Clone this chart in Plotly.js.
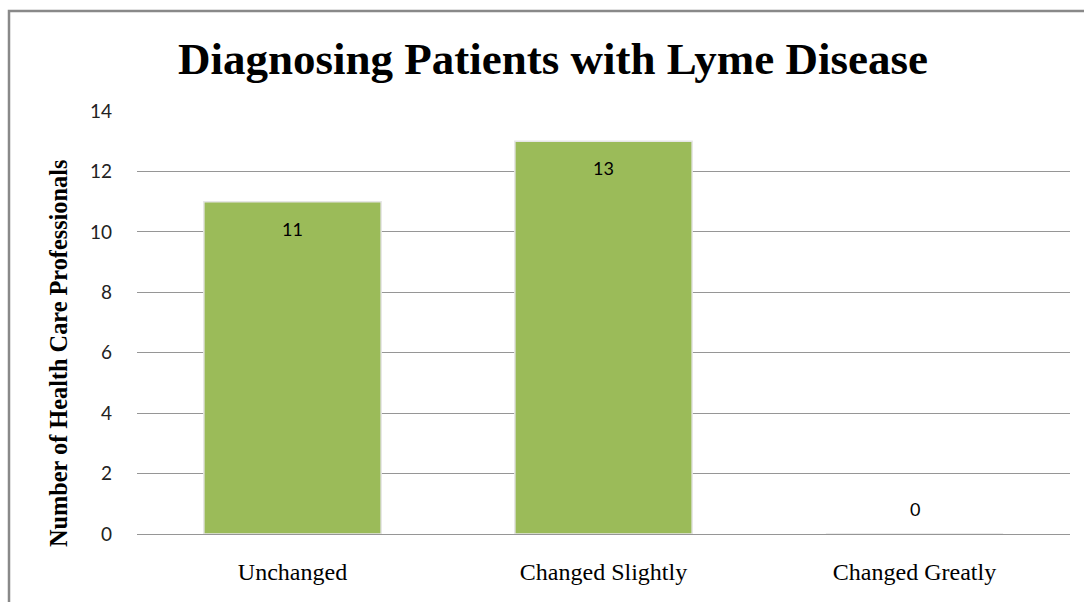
<!DOCTYPE html>
<html>
<head>
<meta charset="utf-8">
<script src="https://cdn.plot.ly/plotly-3.0.1.min.js"></script>
<style>html,body{margin:0;padding:0;background:#fff;}#chart{width:1084px;height:602px;}</style>
</head>
<body>
<div id="chart"></div>
<script>
const categories = ["Unchanged", "Changed Slightly", "Changed Greatly"];
const values = [11, 13, 0];
const yTicks = [0, 2, 4, 6, 8, 10, 12, 14];

const L = 137, R = 14, T = 111, B = 68, W = 1084, H = 602;
const pw = W - L - R, ph = H - T - B;
const SERIF = 'Liberation Serif, Times New Roman, serif';
const SANS = 'Lato, Open Sans, sans-serif';

const labelAnnotations = categories.map((c, i) => ({
  x: c, y: values[i], xref: 'x', yref: 'y',
  text: String(values[i]), showarrow: false,
  yanchor: values[i] > 0 ? 'top' : 'bottom',
  yshift: values[i] > 0 ? -14 : 12,
  font: {family: SANS, size: 18, color: '#000'}
}));

const data = [{
  type: 'bar', x: categories, y: values,
  marker: {color: '#9BBB59', line: {color: '#e6e6e6', width: 1.5}},
  hoverinfo: 'none'
}];

const layout = {
  width: W, height: H,
  margin: {l: L, r: R, t: T, b: B},
  paper_bgcolor: '#fff', plot_bgcolor: '#fff',
  bargap: 0.43,
  showlegend: false,
  title: {
    text: '<b>Diagnosing Patients with Lyme Disease</b>',
    x: 553 / W, xanchor: 'center', xref: 'container',
    y: 1 - 58 / H, yanchor: 'middle', yref: 'container',
    font: {family: SERIF, size: 45, color: '#000'}
  },
  xaxis: {
    type: 'category', showgrid: false, showline: false, zeroline: false,
    ticks: '', ticklabelstandoff: 21,
    tickfont: {family: SERIF, size: 24, color: '#000'}
  },
  yaxis: {
    range: [0, 14], tickvals: yTicks, ticktext: yTicks.map(String),
    showgrid: true, gridcolor: '#969696', gridwidth: 1,
    zeroline: true, zerolinecolor: '#969696', zerolinewidth: 1,
    showline: false, ticks: '', ticklabelstandoff: 24,
    tickfont: {family: SANS, size: 19, color: '#222'}
  },
  annotations: labelAnnotations.concat([{
    text: '<b>Number of Health Care Professionals</b>',
    xref: 'paper', yref: 'paper',
    x: (58 - L) / pw, y: (H - B - 354) / ph,
    xanchor: 'center', yanchor: 'middle', textangle: -90, showarrow: false,
    font: {family: SERIF, size: 24.3, color: '#000'}
  }]),
  shapes: [{
    type: 'rect', xref: 'paper', yref: 'paper',
    x0: (9 - L) / pw, x1: (W + 20 - L) / pw,
    y0: (H - B - (H + 20)) / ph, y1: (H - B - 11) / ph,
    line: {color: '#898989', width: 2.5}, fillcolor: 'rgba(0,0,0,0)', layer: 'below'
  }]
};

Plotly.newPlot('chart', data, layout, {displayModeBar: false, staticPlot: true});
</script>
</body>
</html>
